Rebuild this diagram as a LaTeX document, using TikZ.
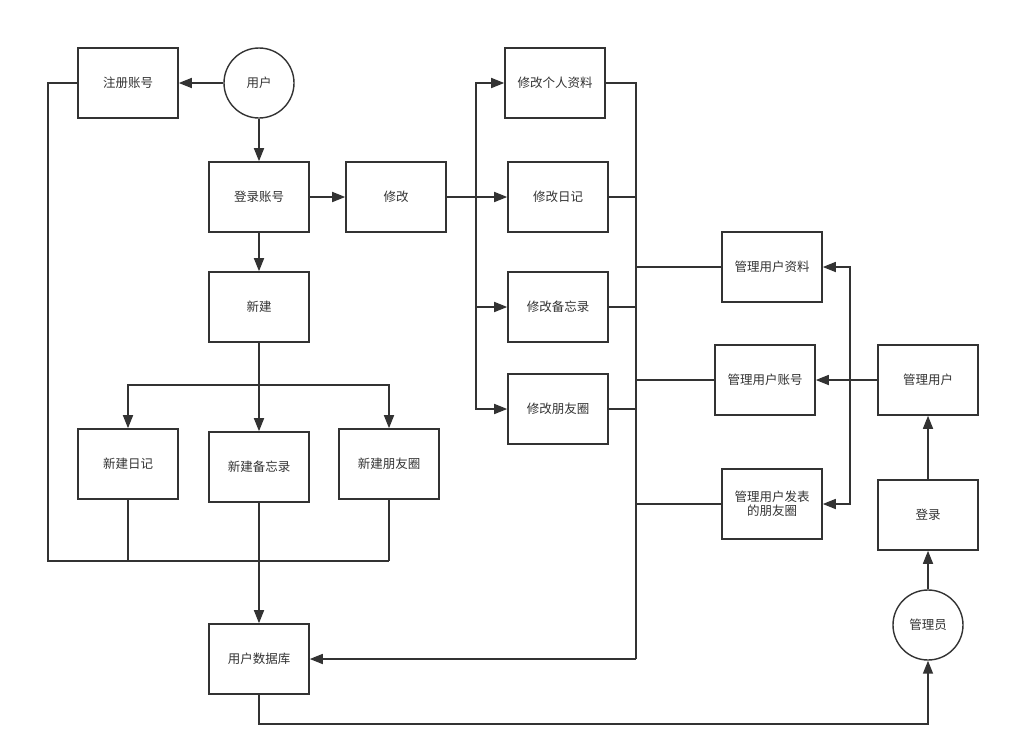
\documentclass[tikz,border=0pt]{standalone}
\usepackage{fontspec}
\setmainfont{Noto Sans CJK SC}
\usetikzlibrary{arrows.meta}
\definecolor{ink}{HTML}{333333}
\begin{document}
\begin{tikzpicture}[x=1pt,y=-1pt,
  box/.style={draw=ink,line width=1.6pt,minimum width=100pt,minimum height=70pt,inner sep=2pt,text=ink,font=\fontsize{12.5pt}{15pt}\selectfont,align=center},
  circ/.style={draw=ink,line width=1.4pt,circle,minimum size=70pt,inner sep=0pt,text=ink,font=\fontsize{12.5pt}{15pt}\selectfont},
  ln/.style={draw=ink,line width=1.6pt},
  arr/.style={ln,-{Triangle[length=13pt,width=10pt]}}]
\path[use as bounding box,fill=white] (0,0) rectangle (1010,755);
% nodes
\node[box] (zczh) at (128,83) {注册账号};
\node[circ] (yh) at (259,83) {用户};
\node[box] (xggrzl) at (555,83) {修改个人资料};
\node[box] (dlzh) at (259,197) {登录账号};
\node[box] (xg) at (396,197) {修改};
\node[box] (xgrj) at (558,197) {修改日记};
\node[box] (xj) at (259,307) {新建};
\node[box] (glzl) at (772,267) {管理用户资料};
\node[box] (xgbwl) at (558,307) {修改备忘录};
\node[box] (glzh) at (765,380) {管理用户账号};
\node[box] (glyh) at (928,380) {管理用户};
\node[box] (xgpyq) at (558,409) {修改朋友圈};
\node[box] (xjrj) at (128,464) {新建日记};
\node[box] (xjbwl) at (259,467) {新建备忘录};
\node[box] (xjpyq) at (389,464) {新建朋友圈};
\node[box] (glpyq) at (772,504) {管理用户发表\\[-1pt]的朋友圈};
\node[box] (dl) at (928,515) {登录};
\node[circ] (gly) at (928,625) {管理员};
\node[box] (yhsjk) at (259,659) {用户数据库};
% junctions
\coordinate (jL) at (48,561);
\coordinate (jR) at (389,561);
\coordinate (jx) at (259,385);
\coordinate (jm) at (476,197);
\coordinate (bt) at (636,83);
\coordinate (bb) at (636,659);
\coordinate (jv) at (850,380);
\coordinate (bl) at (259,724);
% user side
\draw[arr] (yh) -- (zczh);
\draw[ln] (zczh.west) -| (jL) -- (jR);
\draw[ln] (xjrj.south) -- (xjrj.south |- jL);
\draw[ln] (xjpyq.south) -- (jR);
\draw[arr] (xjbwl) -- (yhsjk);
\draw[arr] (yh) -- (dlzh);
\draw[arr] (dlzh) -- (xg);
\draw[arr] (dlzh) -- (xj);
\draw[ln] (xj.south) -- (jx);
\draw[arr] (jx) -| (xjrj);
\draw[arr] (jx) -| (xjpyq);
\draw[arr] (jx) -- (xjbwl);
% modify branch
\draw[arr] (xg) -- (xgrj);
\draw[arr] (jm) |- (xggrzl);
\draw[arr] (jm) |- (xgbwl);
\draw[arr] (jm) |- (xgpyq);
% right bus
\draw[ln] (xggrzl.east) -- (bt) -- (bb);
\draw[arr] (bb) -- (yhsjk);
\draw[ln] (xgrj.east) -- (xgrj.east -| bt);
\draw[ln] (xgbwl.east) -- (xgbwl.east -| bt);
\draw[ln] (xgpyq.east) -- (xgpyq.east -| bt);
\draw[ln] (glzl.west) -- (glzl.west -| bt);
\draw[ln] (glzh.west) -- (glzh.west -| bt);
\draw[ln] (glpyq.west) -- (glpyq.west -| bt);
% admin side
\draw[arr] (glyh) -- (glzh);
\draw[arr] (jv) |- (glzl);
\draw[arr] (jv) |- (glpyq);
\draw[arr] (dl) -- (glyh);
\draw[arr] (gly) -- (dl);
\draw[arr] (yhsjk.south) -- (bl) -| (gly);
\end{tikzpicture}
\end{document}
